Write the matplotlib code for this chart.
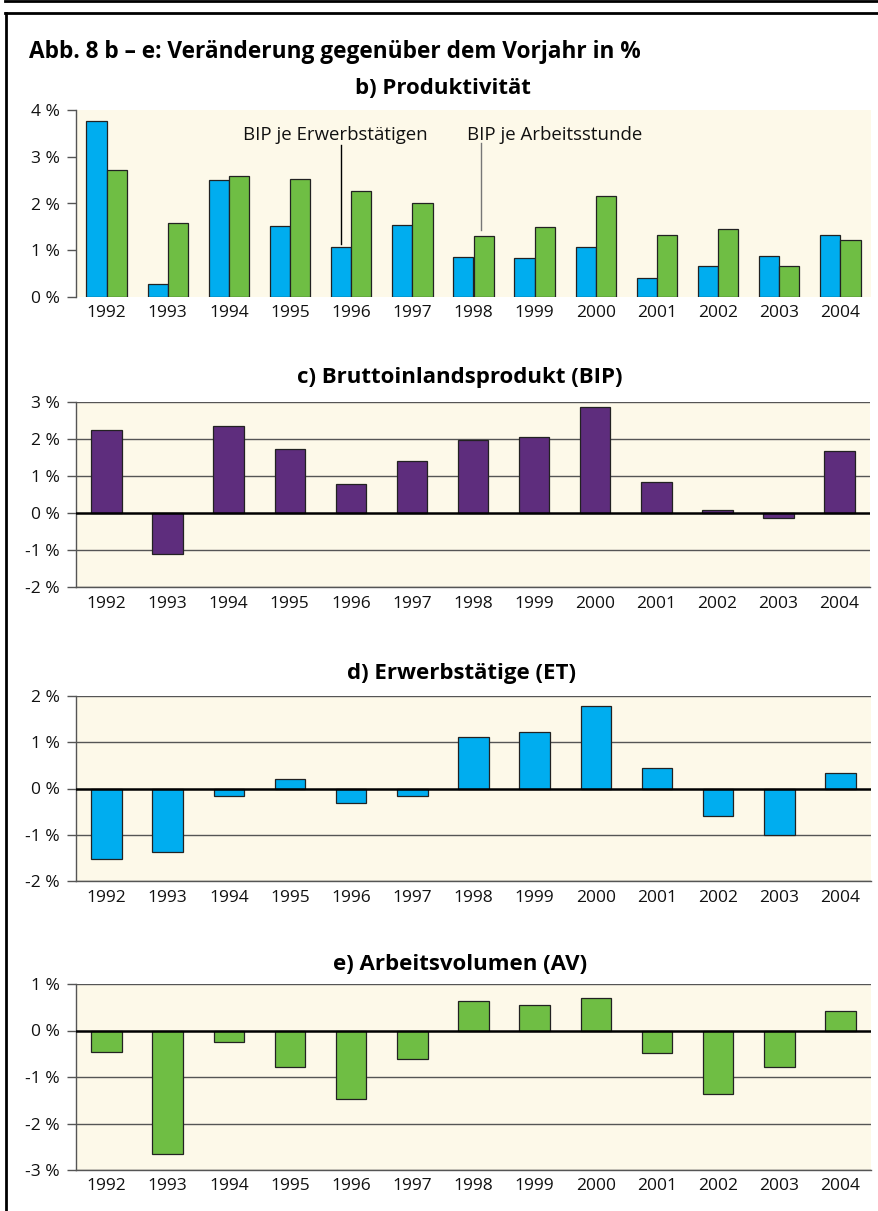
import matplotlib
matplotlib.use("Agg")
import matplotlib.pyplot as plt
from matplotlib.lines import Line2D
import numpy as np

plt.rcParams['font.family'] = ['Open Sans', 'DejaVu Sans']

# --------------------------------------------------
# Data (change vs. previous year in %)
# --------------------------------------------------
years = ["1992", "1993", "1994", "1995", "1996", "1997", "1998",
         "1999", "2000", "2001", "2002", "2003", "2004"]

bip_je_et = [3.77, 0.28, 2.50, 1.51, 1.06, 1.55, 0.85, 0.83, 1.06, 0.40, 0.67, 0.88, 1.32]
bip_je_std = [2.71, 1.58, 2.58, 2.53, 2.27, 2.00, 1.31, 1.49, 2.15, 1.32, 1.46, 0.67, 1.22]
bip = [2.24, -1.10, 2.35, 1.73, 0.77, 1.40, 1.97, 2.06, 2.87, 0.84, 0.08, -0.13, 1.67]
erwerbstaetige = [-1.51, -1.36, -0.17, 0.21, -0.31, -0.17, 1.10, 1.21, 1.77, 0.45, -0.59, -1.00, 0.33]
arbeitsvolumen = [-0.47, -2.65, -0.25, -0.79, -1.48, -0.61, 0.63, 0.54, 0.69, -0.49, -1.37, -0.79, 0.43]

main_title = "Abb. 8 b – e: Veränderung gegenüber dem Vorjahr in %"
titles = ["b) Produktivität", "c) Bruttoinlandsprodukt (BIP)",
          "d) Erwerbstätige (ET)", "e) Arbeitsvolumen (AV)"]

BG = "#fdf9e9"
BLUE = "#00adef"
GREEN = "#6fbe44"
PURPLE = "#5e2d7d"
EDGE = "#222222"
GRID = "#555555"

W, H = 879, 1211
fig = plt.figure(figsize=(W / 100, H / 100), dpi=100, facecolor="white")


def px_axes(x0, y0, x1, y1):
    return fig.add_axes([x0 / W, 1 - y1 / H, (x1 - x0) / W, (y1 - y0) / H])


def style_axes(ax, ylim, yticks, grid=True):
    ax.set_facecolor(BG)
    ax.set_xlim(-0.5, len(years) - 0.5)
    ax.set_ylim(*ylim)
    ax.set_yticks(yticks)
    ax.set_yticklabels([f"{v} %" for v in yticks])
    ax.set_xticks(range(len(years)))
    ax.set_xticklabels(years)
    ax.tick_params(axis='x', length=0, pad=6, labelsize=12.5, labelcolor="#111111")
    ax.tick_params(axis='y', length=6.5, width=1.0, color=GRID, pad=5,
                   direction='out', labelsize=12.5, labelcolor="#111111")
    for s in ["top", "right"]:
        ax.spines[s].set_visible(False)
    ax.spines["left"].set_color(GRID)
    ax.spines["left"].set_linewidth(1.0)
    ax.spines["bottom"].set_color(GRID)
    ax.spines["bottom"].set_linewidth(1.0)
    if grid:
        for v in yticks:
            if v == 0:
                ax.axhline(0, color="black", lw=1.8, zorder=3)
            else:
                ax.axhline(v, color=GRID, lw=1.0, zorder=0.5)
    ax.set_axisbelow(True)


x = np.arange(len(years))

# --------------------------------------------------
# b) Produktivität
# --------------------------------------------------
ax_b = px_axes(76, 110, 871, 297)
style_axes(ax_b, (0, 4), [0, 1, 2, 3, 4], grid=False)
ax_b.spines["bottom"].set_visible(False)
bw = 0.33
ax_b.bar(x - bw / 2, bip_je_et, width=bw, color=BLUE, edgecolor=EDGE, linewidth=0.9, zorder=2)
ax_b.bar(x + bw / 2, bip_je_std, width=bw, color=GREEN, edgecolor=EDGE, linewidth=0.9, zorder=2)

i_et = years.index("1996")
ax_b.plot([i_et - bw / 2] * 2, [bip_je_et[i_et] + 0.08, 3.25], color="black", lw=1.0, zorder=4)
ax_b.text(i_et - bw / 2 - 0.09, 3.47, "BIP je Erwerbstätigen", ha='center', va='center',
          fontsize=13.4, color="#111111", zorder=5)
i_std = years.index("1998")
ax_b.plot([i_std + bw / 2 - 0.05] * 2, [bip_je_std[i_std] + 0.12, 3.29], color="#777777", lw=1.0, zorder=4)
ax_b.text(7.32, 3.47, "BIP je Arbeitsstunde", ha='center', va='center',
          fontsize=13.4, color="#111111", zorder=5)

# --------------------------------------------------
# c) BIP
# --------------------------------------------------
ax_c = px_axes(76, 401.7, 870, 587.3)
style_axes(ax_c, (-2, 3), [-2, -1, 0, 1, 2, 3])
ax_c.bar(x, bip, width=0.5, color=PURPLE, edgecolor=EDGE, linewidth=0.9, zorder=2)

# --------------------------------------------------
# d) Erwerbstätige
# --------------------------------------------------
ax_d = px_axes(76, 695.7, 871, 881.3)
style_axes(ax_d, (-2, 2), [-2, -1, 0, 1, 2])
ax_d.bar(x, erwerbstaetige, width=0.5, color=BLUE, edgecolor=EDGE, linewidth=0.9, zorder=2)

# --------------------------------------------------
# e) Arbeitsvolumen
# --------------------------------------------------
ax_e = px_axes(76, 984, 871, 1170)
style_axes(ax_e, (-3, 1), [-3, -2, -1, 0, 1])
ax_e.bar(x, arbeitsvolumen, width=0.5, color=GREEN, edgecolor=EDGE, linewidth=0.9, zorder=2)

# --------------------------------------------------
# Titles
# --------------------------------------------------
fig.text(29 / W, 1 - 52 / H, main_title, ha='left', va='center',
         fontsize=16.3, fontweight='bold', color="black")
for t, (cx, cy) in zip(titles, [(443, 88), (460, 378), (461.7, 673), (459.7, 965)]):
    fig.text(cx / W, 1 - cy / H, t, ha='center', va='center',
             fontsize=16, fontweight='bold', color="black")

# --------------------------------------------------
# Frame lines
# --------------------------------------------------
fig.add_artist(Line2D([5 / W, 1], [1 - 1 / H, 1 - 1 / H], color="black", lw=2.0))
fig.add_artist(Line2D([5 / W, 1], [1 - 12.5 / H, 1 - 12.5 / H], color="black", lw=2.0))
fig.add_artist(Line2D([6 / W, 6 / W], [0, 1 - 12.5 / H], color="black", lw=2.0))

fig.savefig("out.png", dpi=100, facecolor="white")
